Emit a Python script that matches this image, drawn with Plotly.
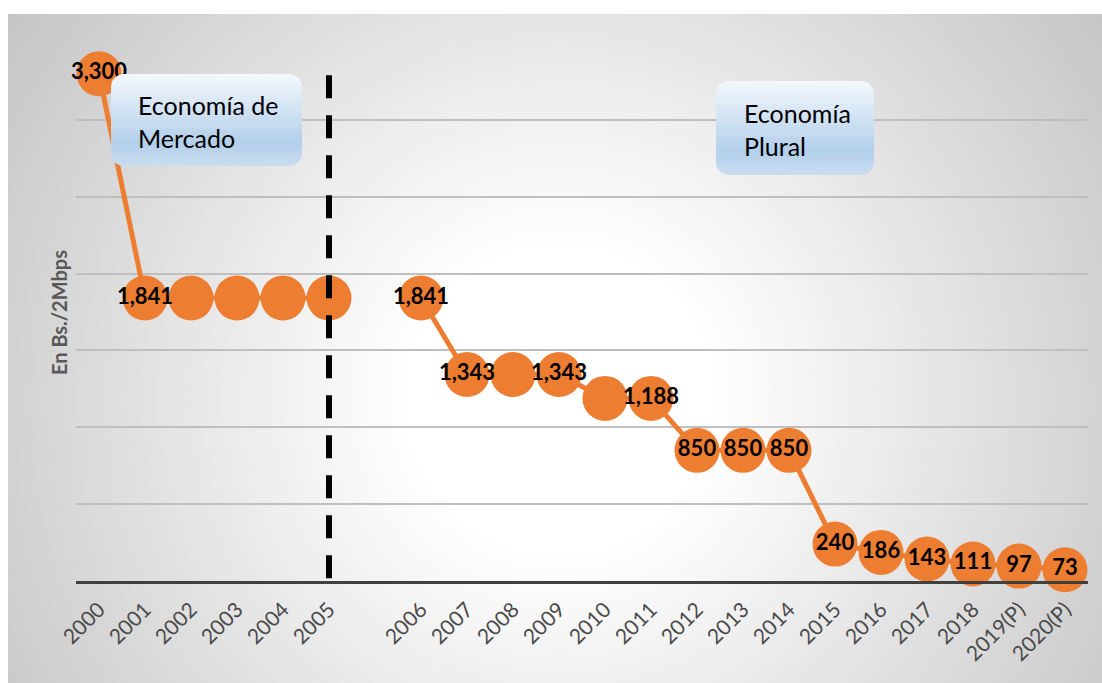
import base64
import plotly.graph_objects as go

# Tarifa por enlace de 2 Mbps, en Bs.
categories = ["2000", "2001", "2002", "2003", "2004", "2005", " ",
              "2006", "2007", "2008", "2009", "2010", "2011", "2012",
              "2013", "2014", "2015", "2016", "2017", "2018",
              "2019(P)", "2020(P)"]
values = [3300, 1841, 1841, 1841, 1841, 1841, None,
          1841, 1343, 1343, 1343, 1188, 1188, 850,
          850, 850, 240, 186, 143, 111, 97, 73]
show_label = [True, True, False, False, False, False, False,
              True, True, False, True, False, True, True,
              True, True, True, True, True, True, True, True]

labels = [f"{v:,}" if (v is not None and s) else "" for v, s in zip(values, show_label)]

# the divider sits on the last year of the first period
divider_index = categories.index("2005")

W, H = 1102, 683
ML, MR, MT, MB = 76, 14, 43, 102
PW, PH = W - ML - MR, H - MT - MB


def px_x(px):
    return (px - ML) / PW


def px_y(py):
    return (H - MB - py) / PH


def svg_uri(svg):
    return "data:image/svg+xml;base64," + base64.b64encode(svg.encode()).decode()


bg_svg = """<svg xmlns='http://www.w3.org/2000/svg' width='1094' height='669' viewBox='0 0 1094 669' preserveAspectRatio='none'>
<defs><radialGradient id='g' gradientUnits='userSpaceOnUse' cx='552' cy='386' r='680'>
<stop offset='0' stop-color='#ffffff'/><stop offset='0.22' stop-color='#ffffff'/>
<stop offset='1' stop-color='#c4c4c4'/></radialGradient></defs>
<rect x='0' y='0' width='1094' height='669' fill='url(#g)'/></svg>"""


def box_svg(w, h):
    return f"""<svg xmlns='http://www.w3.org/2000/svg' width='{w}' height='{h}' viewBox='0 0 {w} {h}' preserveAspectRatio='none'>
<defs><linearGradient id='b' x1='0' y1='0' x2='0' y2='1'>
<stop offset='0' stop-color='#f3f8fd'/><stop offset='0.75' stop-color='#b3cfea'/>
<stop offset='1' stop-color='#c9ddf0'/></linearGradient></defs>
<rect x='0' y='0' width='{w}' height='{h}' rx='13' ry='13' fill='url(#b)'/></svg>"""


def image(svg, x0, y0, x1, y1, layer):
    return dict(source=svg_uri(svg), xref="paper", yref="paper",
                x=px_x(x0), y=px_y(y0), sizex=(x1 - x0) / PW, sizey=(y1 - y0) / PH,
                xanchor="left", yanchor="top", sizing="stretch", layer=layer)


fig = go.Figure()
fig.add_trace(go.Scatter(
    x=categories, y=values, mode="lines+markers+text",
    line=dict(color="#ED7D31", width=5), connectgaps=False,
    marker=dict(color="#ED7D31", size=45),
    text=labels, textposition="middle center",
    textfont=dict(family="Lato", size=22, color="#000000", weight="bold"),
    cliponaxis=False, hoverinfo="x+y", showlegend=False,
))

fig.add_shape(type="line", xref="x", yref="y", x0=divider_index, x1=divider_index,
              y0=3290, y1=-137, layer="above",
              line=dict(color="#000000", width=6, dash="23px,17px"))

fig.update_layout(
    width=W, height=H,
    margin=dict(l=ML, r=MR, t=MT, b=MB),
    paper_bgcolor="#ffffff", plot_bgcolor="rgba(0,0,0,0)",
    font=dict(family="Lato", color="#595959"),
    images=[
        image(bg_svg, 8, 14, 1102, 683, "below"),
        image(box_svg(191, 92), 111, 74, 302, 166, "above"),
        image(box_svg(158, 94), 716, 81, 874, 175, "above"),
    ],
    annotations=[
        dict(text="Economía de<br>Mercado", xref="paper", yref="paper",
             x=px_x(136), y=px_y(88), xanchor="left", yanchor="top", align="left",
             showarrow=False, font=dict(family="Lato", size=25, color="#000000")),
        dict(text="Economía<br>Plural", xref="paper", yref="paper",
             x=px_x(742), y=px_y(96), xanchor="left", yanchor="top", align="left",
             showarrow=False, font=dict(family="Lato", size=25, color="#000000")),
        dict(text="<b>En Bs./2Mbps</b>", xref="paper", yref="paper",
             x=px_x(59), y=px_y(313), xanchor="center", yanchor="middle",
             textangle=-90, showarrow=False,
             font=dict(family="Lato", size=20, color="#595959")),
    ],
)

fig.update_xaxes(type="category", categoryorder="array", categoryarray=categories,
                 tickangle=-45, tickfont=dict(family="Lato", size=21, color="#4a4a4a"),
                 ticklabelstandoff=5,
                 showgrid=False, showline=True, linecolor="#404040", linewidth=3,
                 ticks="", zeroline=False, range=[-0.5, len(categories) - 0.5])
fig.update_yaxes(range=[0, 3500], dtick=500, showticklabels=False,
                 showgrid=True, gridcolor="#bfbfbf", gridwidth=1.5, zeroline=False)

fig.write_html("out.html")
